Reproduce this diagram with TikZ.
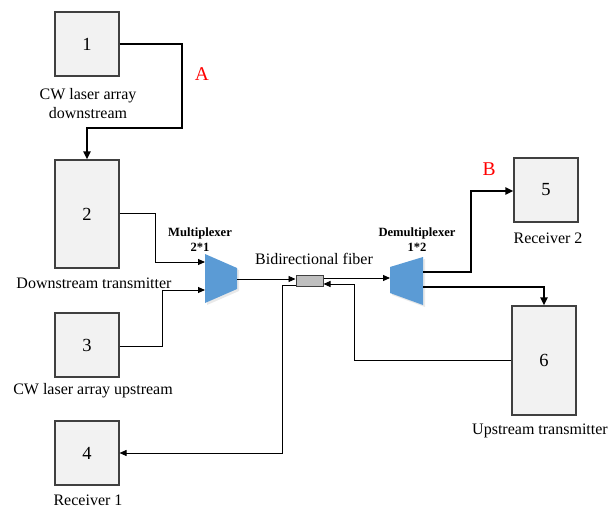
\documentclass[tikz,border=0pt]{standalone}
\usepackage{fontspec}
\setmainfont{Liberation Serif}
\usetikzlibrary{arrows.meta}
\definecolor{boxfill}{HTML}{F2F2F2}
\definecolor{boxline}{HTML}{404040}
\definecolor{muxblue}{HTML}{5B9BD5}
\definecolor{couplerfill}{HTML}{BFBFBF}
\tikzset{
  unit/.style={draw=boxline, fill=boxfill, line width=1.1pt, minimum width=64pt, inner sep=0pt, font=\fontsize{18.5}{18.5}\selectfont},
  caption/.style={font=\fontsize{16}{19}\selectfont, align=center, inner sep=0pt},
  muxlabel/.style={font=\bfseries\fontsize{12.6}{15}\selectfont, align=center, inner sep=0pt},
  thin link/.style={line width=0.9pt, -{Triangle[length=7pt,width=6pt]}},
  thick link/.style={line width=2pt, -{Triangle[length=8pt,width=7pt]}},
  mux/.style={fill=muxblue, draw=none},
  tag/.style={text=red, font=\fontsize{19.5}{19.5}\selectfont, inner sep=0pt}
}
\begin{document}
\begin{tikzpicture}[x=1pt, y=-1pt]
\useasboundingbox (0,0) rectangle (610,511);

% source, transmitter and receiver blocks
\node[unit, minimum height=64pt]  (b1) at (87,44)   {1};
\node[unit, minimum height=108pt] (b2) at (87,214)  {2};
\node[unit, minimum height=64pt]  (b3) at (87,345)  {3};
\node[unit, minimum height=64pt]  (b4) at (87,453)  {4};
\node[unit, minimum height=64pt]  (b5) at (546,190) {5};
\node[unit, minimum height=109pt] (b6) at (544,360.5) {6};

\node[caption] (c1) at (88,104) {CW laser array\\downstream};
\node[caption] (c2) at (94,283)  {Downstream transmitter};
\node[caption] (c3) at (93,391)  {CW laser array upstream};
\node[caption] (c4) at (88,500)  {Receiver 1};
\node[caption] (c5) at (548,238) {Receiver 2};
\node[caption] (c6) at (540,431) {Upstream transmitter};

% multiplexer and demultiplexer
\fill[black!25, opacity=0.35] (207,256) -- (239,270) -- (239,291) -- (207,305) -- cycle;
\path[mux] (205,254) -- (237,268) -- (237,289) -- (205,303) -- cycle;
\coordinate (muxA) at (205,262);
\coordinate (muxB) at (205,290);
\coordinate (muxO) at (237,279);
\node[muxlabel] (lmux) at (200,240) {Multiplexer\\2*1};

\fill[black!25, opacity=0.35] (392,269) -- (425,259) -- (425,307) -- (392,295) -- cycle;
\path[mux] (390,267) -- (423,257) -- (423,305) -- (390,293) -- cycle;
\coordinate (demI) at (390,278);
\coordinate (demA) at (423,272);
\coordinate (demB) at (423,287);
\node[muxlabel] (ldem) at (417,240) {Demultiplexer\\1*2};

% fiber coupler
\node[draw=boxline, fill=couplerfill, line width=1pt, minimum width=27pt, minimum height=11pt, inner sep=0pt] (cp) at (309.5,280.5) {};
\node[font=\fontsize{16}{19}\selectfont, inner sep=0pt] (lfib) at (314,259) {Bidirectional fiber};

% labels of the marked links
\node[tag] (tA) at (202,74)  {A};
\node[tag] (tB) at (489,169) {B};

% links
\draw[thick link] (b1.east |- 0,44) -- (182,44) -- (182,128) -- (87,128) -- (b2.north);
\draw[thin link] (b2.east |- 0,213) -- (155,213) -- (155,262) -- (muxA);
\draw[thin link] (b3.east |- 0,346) -- (162,346) -- (162,290) -- (muxB);
\draw[thin link] (muxO) -- (cp.west |- muxO);
\draw[thin link] (cp.east |- 0,278) -- (demI);
\draw[thick link] (demA) -- (471,272) -- (471,191) -- (b5.west |- 0,191);
\draw[thick link] (demB) -- (544,287) -- (b6.north);
\draw[thin link] (b6.west) -- (354,360.5) -- (354,284) -- (cp.east |- 0,284);
\draw[thin link] (cp.west |- 0,285) -- (282,285) -- (282,453) -- (b4.east);
\end{tikzpicture}
\end{document}
